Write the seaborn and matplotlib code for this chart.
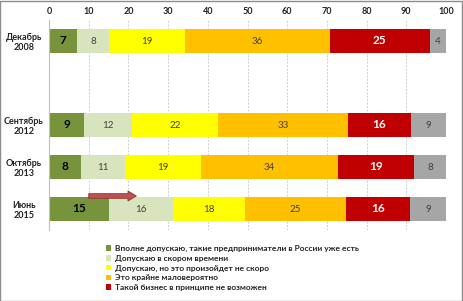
import numpy as np
import pandas as pd
import seaborn as sns
import matplotlib
matplotlib.use("Agg")
import matplotlib.pyplot as plt
from matplotlib.patches import Rectangle

# ---- data ----
periods = ["Декабрь\n2008", "Сентябрь\n2012", "Октябрь\n2013", "Июнь\n2015"]
slot_order = ["Декабрь\n2008", " ", "Сентябрь\n2012", "Октябрь\n2013", "Июнь\n2015"]
series_names = [
    "Вполне допускаю, такие предприниматели в России уже есть",
    "Допускаю в скором времени",
    "Допускаю, но это произойдет не скоро",
    "Это крайне маловероятно",
    "Такой бизнес в принципе не возможен",
    "Затрудняюсь ответить",
]
v_already = [7, 9, 8, 15]
v_soon = [8, 12, 11, 16]
v_not_soon = [19, 22, 19, 18]
v_unlikely = [36, 33, 34, 25]
v_impossible = [25, 16, 19, 16]
v_hard = [4, 9, 8, 9]
x_ticks = [0, 10, 20, 30, 40, 50, 60, 70, 80, 90, 100]
arrow_from, arrow_to = 10, 22

colors = ["#77933C", "#D7E4BD", "#FFFF00", "#FFC000", "#C00000", "#A6A6A6"]
label_styles = [
    dict(color="black", fontweight="bold", fontsize=8.5),
    dict(color="#404040", fontweight="normal", fontsize=7),
    dict(color="#404040", fontweight="normal", fontsize=7),
    dict(color="#404040", fontweight="normal", fontsize=7),
    dict(color="white", fontweight="bold", fontsize=8.5),
    dict(color="#404040", fontweight="normal", fontsize=7),
]

sns.set_theme(style="white")
plt.rcParams["font.family"] = ["Lato", "DejaVu Sans"]

vals = np.array([v_already, v_soon, v_not_soon, v_unlikely, v_impossible, v_hard], dtype=float)
shares = vals / vals.sum(axis=0) * 100
cums = np.cumsum(shares, axis=0)

fig = plt.figure(figsize=(4.63, 3.01), dpi=100)
ax = fig.add_axes([49 / 463, 1 - 230 / 301, (446 - 49) / 463, (230 - 20) / 301])

for i in range(len(series_names) - 1, -1, -1):
    df = pd.DataFrame({"period": periods, "value": cums[i]})
    sns.barplot(data=df, x="value", y="period", order=slot_order, orient="h",
                color=colors[i], saturation=1, width=0.55, errorbar=None,
                linewidth=0, ax=ax, zorder=2)

# data labels
for i in range(len(series_names)):
    for j, p in enumerate(periods):
        ypos = slot_order.index(p)
        xc = cums[i][j] - shares[i][j] / 2
        ax.text(xc, ypos, f"{int(vals[i][j])}", ha="center", va="center",
                zorder=5, **label_styles[i])

# arrow
y_arrow = slot_order.index("Июнь\n2015") - 0.31
ax.annotate("", xy=(arrow_to, y_arrow), xytext=(arrow_from, y_arrow),
            arrowprops=dict(arrowstyle="simple,head_length=0.5,head_width=0.6,tail_width=0.28",
                            fc="#C0504D", ec="#8C3836", lw=0.6, shrinkA=0, shrinkB=0),
            zorder=6)

ax.set_xlim(0, 100)
ax.set_ylim(len(slot_order) - 0.5, -0.5)
ax.set_xlabel("")
ax.set_ylabel("")
ax.xaxis.tick_top()
ax.set_xticks(x_ticks)
ax.set_xticklabels([str(t) for t in x_ticks], fontsize=6.5, fontweight="bold", color="#222222")
ax.tick_params(axis="x", length=0, pad=3)
ax.grid(axis="x", color="#CFCFCF", lw=0.7, linestyle=(0, (2, 1.5)), zorder=0)
ax.set_axisbelow(True)

ax.set_yticks(range(len(slot_order)))
ax.set_yticklabels(slot_order, fontsize=6.5, fontweight="bold", color="#222222")
for lab in ax.get_yticklabels():
    lab.set_ha("center")
    lab.set_multialignment("center")
ax.tick_params(axis="y", length=0, pad=18)
ax.set_yticks(np.arange(-0.5, len(slot_order), 1.0), minor=True)
ax.tick_params(axis="y", which="minor", length=4, color="#BFBFBF", width=0.8)

for s in ["top", "right", "bottom"]:
    ax.spines[s].set_visible(False)
ax.spines["left"].set_color("#BFBFBF")
ax.spines["left"].set_linewidth(0.8)

handles = [Rectangle((0, 0), 1, 1, fc=colors[i], ec="none") for i in range(5)]
fig.legend(handles, series_names[:5], loc="upper left",
           bbox_to_anchor=(106 / 463, 1 - 245 / 301), frameon=False,
           prop=dict(size=6, weight="bold"), handlelength=0.65, handleheight=0.65,
           handletextpad=0.4, labelspacing=0.32, borderpad=0, borderaxespad=0)

fig.patches.append(Rectangle((0.001, 0.0015), 0.997, 0.996, transform=fig.transFigure,
                             fill=False, ec="#8C8C8C", lw=1))

fig.savefig("out.png", dpi=100)
